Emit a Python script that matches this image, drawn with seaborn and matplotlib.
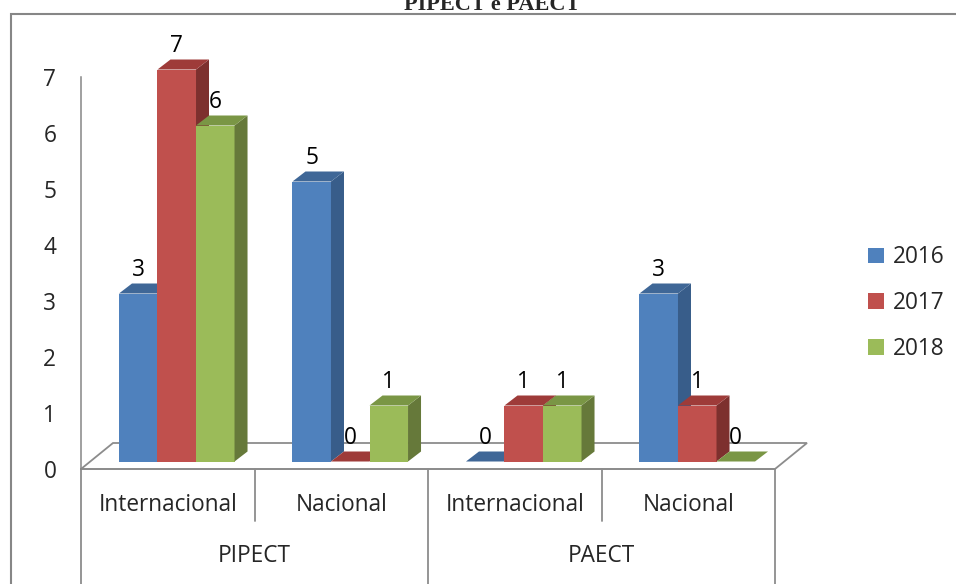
import numpy as np
import pandas as pd
import matplotlib
matplotlib.use("Agg")
import matplotlib.pyplot as plt
import seaborn as sns
from matplotlib.patches import Polygon, Rectangle, Patch
from matplotlib.transforms import Affine2D, blended_transform_factory

grupos = ["PIPECT", "PIPECT", "PAECT", "PAECT"]
tipos = ["Internacional", "Nacional", "Internacional", "Nacional"]
anos = ["2016", "2017", "2018"]
v2016 = [3, 5, 0, 3]
v2017 = [7, 0, 1, 1]
v2018 = [6, 1, 1, 0]

cores = ["#4F81BD", "#C0504D", "#9BBB59"]
cores_lado = ["#385D8A", "#7D302E", "#66793A"]
cores_topo = ["#3F6797", "#9E3B39", "#7A9645"]

chaves = [g + "|" + t for g, t in zip(grupos, tipos)]
df = pd.DataFrame({
    "chave": chaves * 3,
    "ano": [a for a in anos for _ in chaves],
    "valor": v2016 + v2017 + v2018,
})

sns.set_style("white")
plt.rcParams["font.family"] = ["Open Sans", "DejaVu Sans"]
fs = 16.3

fig = plt.figure(figsize=(9.56, 5.84), dpi=100)
W, H = 956, 584
ax = fig.add_axes([81 / W, (H - 469) / H, (775 - 81) / W, (469 - 77) / H])

sns.barplot(data=df, x="chave", y="valor", hue="ano", order=chaves, hue_order=anos,
            palette=cores, width=0.666, saturation=1, legend=False, linewidth=0, ax=ax)
ax.set_xlim(-0.5, 3.5)
ax.set_ylim(0, 7)
ax.set_xlabel("")
ax.set_ylabel("")
ax.set_xticks([])
ax.set_yticks(range(8))
ax.tick_params(axis="y", length=5.8, width=1.1, color="#868686", pad=12, labelsize=fs)
for s in ["top", "right"]:
    ax.spines[s].set_visible(False)
ax.spines["left"].set_color("#868686")
ax.spines["left"].set_linewidth(1.1)
ax.spines["bottom"].set_visible(False)

# deslocamentos 3D em pixels
off = (9, 7.5)
prof = (13, 10)
fundo = (32, 26)

inv = ax.transData.inverted()


def to_data(pts):
    return inv.transform(np.array(pts))


# piso
x0p, y0p = ax.transData.transform((-0.5, 0))
x1p, _ = ax.transData.transform((3.5, 0))
piso = [(x0p, y0p), (x0p + fundo[0], y0p + fundo[1]), (x1p + fundo[0], y0p + fundo[1]), (x1p, y0p)]
ax.add_patch(Polygon(to_data(piso), closed=True, facecolor="white", edgecolor="#8C8C8C",
                     linewidth=1.3, zorder=1, clip_on=False))
ax.plot([-0.5, 3.5], [0, 0], color="#8C8C8C", lw=1.3, zorder=1.1, clip_on=False)
ax.plot([x0p - 8, x0p], [y0p, y0p], color="#8C8C8C", lw=1.3, transform=None, zorder=1.1)

# barras 3D
barras = []
for i, cont in enumerate(ax.containers):
    for rect in cont.patches:
        barras.append((rect.get_x(), i, rect))
barras.sort(key=lambda b: b[0])

for k, (_, i, rect) in enumerate(barras):
    z = 2 + k * 0.01
    rect.set_transform(ax.transData + Affine2D().translate(*off))
    rect.set_clip_on(False)
    rect.set_zorder(z)
    xa, ya = ax.transData.transform((rect.get_x(), 0))
    xb, yb = ax.transData.transform((rect.get_x() + rect.get_width(), rect.get_height()))
    xa += off[0]; xb += off[0]; ya += off[1]; yb += off[1]
    lado = [(xb, ya), (xb + prof[0], ya + prof[1]), (xb + prof[0], yb + prof[1]), (xb, yb)]
    topo = [(xa, yb), (xb, yb), (xb + prof[0], yb + prof[1]), (xa + prof[0], yb + prof[1])]
    if rect.get_height() > 0:
        ax.add_patch(Polygon(to_data(lado), closed=True, facecolor=cores_lado[i],
                             edgecolor="none", zorder=z + 0.001, clip_on=False))
    ax.add_patch(Polygon(to_data(topo), closed=True, facecolor=cores_topo[i],
                         edgecolor="none", zorder=z + 0.002, clip_on=False))
    xc = rect.get_x() + rect.get_width() / 2
    ax.text(xc, rect.get_height(), f"{int(rect.get_height())}",
            transform=ax.transData + Affine2D().translate(off[0], off[1] + 24),
            ha="center", va="center", fontsize=fs, color="black", zorder=5, clip_on=False)

# eixo de categorias em dois niveis
bt = blended_transform_factory(ax.transData, ax.transAxes)
alt = 469 - 77
for xs in [-0.5, 1.5, 3.5]:
    ax.plot([xs, xs], [0, -130 / alt], color="#8C8C8C", lw=1.3, transform=bt, clip_on=False)
for xs in [0.5, 2.5]:
    ax.plot([xs, xs], [0, -52 / alt], color="#8C8C8C", lw=1.3, transform=bt, clip_on=False)
for j, t in enumerate(tipos):
    ax.text(j, -36 / alt, t, transform=bt, ha="center", va="center", fontsize=fs)
for g in dict.fromkeys(grupos):
    pos = [j for j, gg in enumerate(grupos) if gg == g]
    ax.text(np.mean(pos), -87 / alt, g, transform=bt, ha="center", va="center", fontsize=fs)

# legenda
handles = [Patch(facecolor=c, edgecolor="none") for c in cores]
fig.legend(handles, anos, loc="center left", bbox_to_anchor=(868 / W, 1 - 303 / H),
           frameon=False, fontsize=fs, handlelength=0.7, handleheight=0.7,
           handletextpad=0.4, labelspacing=0.95, borderpad=0, borderaxespad=0)

# titulo (cortado no topo) e moldura
fig.text(492 / W, 1 - 10 / H, "PIPECT e PAECT", ha="center", va="baseline",
         fontsize=16, fontweight="bold", family=["Liberation Serif", "DejaVu Serif"])
fig.add_artist(Rectangle((11 / W, -0.05), 1.1, (H - 14) / H + 0.05, transform=fig.transFigure,
                         fill=False, edgecolor="#868686", linewidth=1.5))

fig.savefig("out.png", dpi=100)
